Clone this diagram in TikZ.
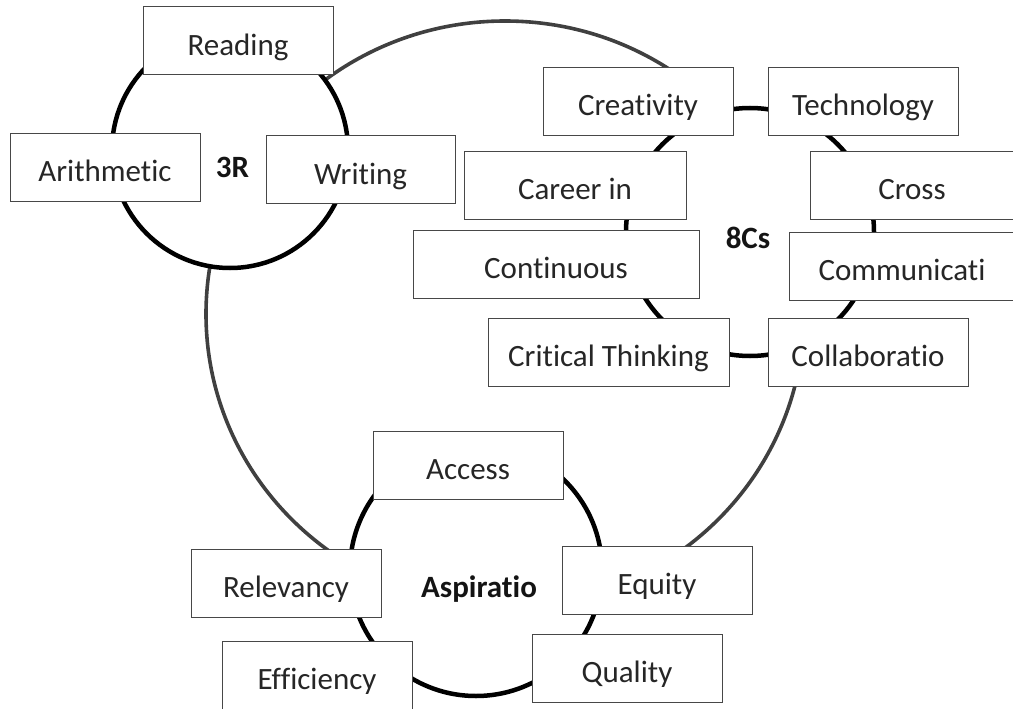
\documentclass[tikz,border=0pt]{standalone}
\usepackage{fontspec}
\setmainfont{Carlito}[Ligatures={NoCommon,NoRare,NoContextual}]
\begin{document}
\begin{tikzpicture}[x=1pt,y=-1pt,
  box/.style={draw=black!72, line width=1pt, fill=white, minimum height=68pt,
    inner sep=0pt, text height=30pt, text depth=1pt,
    font=\fontsize{31}{36}\selectfont, text=black!85},
  lbl/.style={font=\fontsize{31}{36}\selectfont\bfseries, inner sep=0pt, anchor=base, text=black!92},
  ring/.style={line width=4.5pt, draw=black, fill=white},
  cyc/.style={line width=3.6pt, draw=black!75}]
\clip (0,0) rectangle (1013,709);
% outer cycle
\draw[cyc] (505,314) ellipse [x radius=299pt, y radius=293pt];
% inner rings
\draw[ring] (230,150) circle [radius=118pt];
\draw[ring] (750,232) circle [radius=124pt];
\draw[ring] (476,570) circle [radius=126pt];
% 3R
\node[box, minimum width=190pt] (reading) at (238,41) {Reading};
\node[box, minimum width=190pt] (arith) at (105,167) {Arithmetic};
\node[box, minimum width=189pt] (writing) at (360.5,169.5) {Writing};
\node[lbl] (r3) at (232.5,177) {3R};
% 8Cs
\node[box, minimum width=190pt] (creat) at (638,101.5) {Creativity};
\node[box, minimum width=190pt] (tech) at (863,101.5) {Technology};
\node[box, minimum width=222pt] (career) at (575,185) {Career in};
\node[box, minimum width=204pt] (cross) at (912,185) {Cross};
\node[box, minimum width=286pt] (contin) at (556,264) {Continuous};
\node[box, minimum width=226pt] (comm) at (902,266) {Communicati};
\node[box, minimum width=241pt] (crit) at (608.5,352) {Critical Thinking};
\node[box, minimum width=200pt] (collab) at (868,352) {Collaboratio};
\node[lbl] (c8) at (748,248) {8Cs};
% Aspiration
\node[box, minimum width=190pt] (access) at (468,465) {Access};
\node[box, minimum width=190pt] (relev) at (286,583) {Relevancy};
\node[box, minimum width=190pt] (effic) at (317,675) {Efficiency};
\node[box, minimum width=190pt] (equity) at (657,580) {Equity};
\node[box, minimum width=190pt] (quality) at (627,668) {Quality};
\node[lbl] (asp) at (479,597) {Aspiratio};
\end{tikzpicture}
\end{document}
